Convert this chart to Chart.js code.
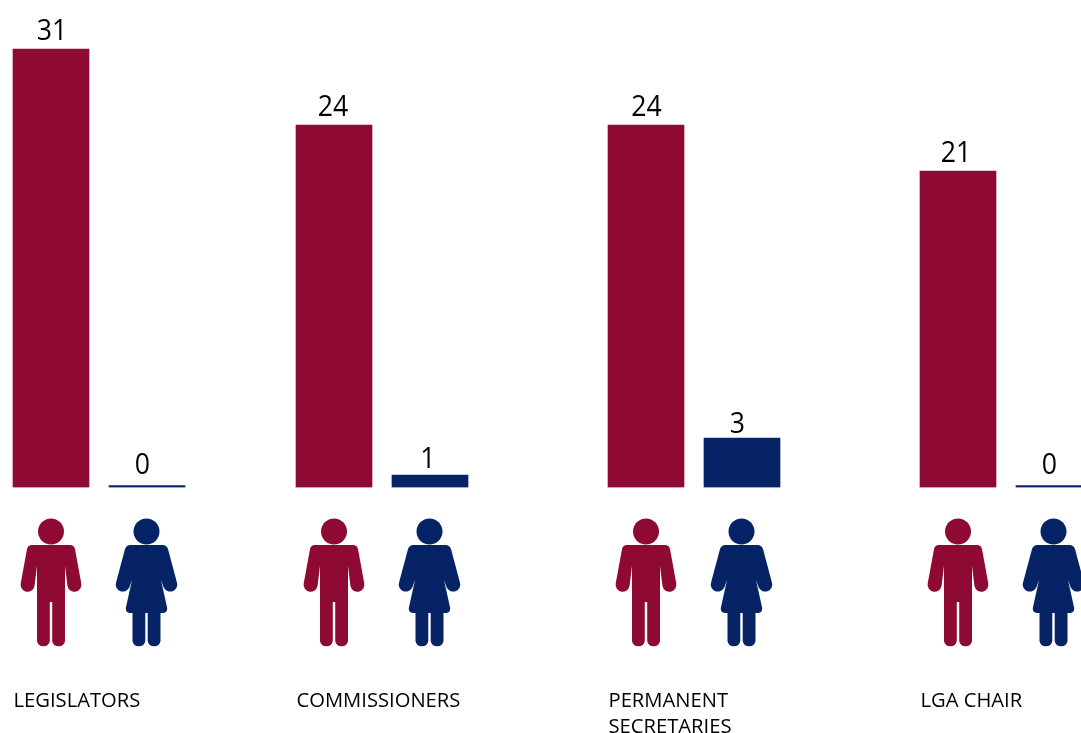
<!DOCTYPE html>
<html>
<head>
<meta charset="utf-8">
<style>
html,body{margin:0;padding:0;background:#fff;overflow:hidden}
#wrap{position:relative;width:1081px;height:733px}
</style>
<script src="https://cdn.jsdelivr.net/npm/chart.js@4/dist/chart.umd.js"></script>
</head>
<body>
<div id="wrap"><canvas id="chart"></canvas></div>
<script>
// Office-holders by gender
const categories = [["LEGISLATORS"], ["COMMISSIONERS"], ["PERMANENT", "SECRETARIES"], ["LGA CHAIR"]];
const men = [31, 24, 24, 21];
const women = [0, 1, 3, 0];

// Layout, in x-scale units (one unit is one pixel across the 1081px canvas)
const groupCentres = [51, 334, 646, 958];
const pairStep = 96;
const barWidth = 76;
const baselineY = 487.5;
const menLabelShift = [1, -1, 0.5, -2];
const womenLabelLift = [11.5, 7, 5.5, 11.5];
const womenLabelShift = [-4.5, -2, -4.5, -4.5];

const MEN_COLOUR = "#8f0a33";
const WOMEN_COLOUR = "#062366";
const FONT = '"Open Sans", sans-serif';

// The value axis is drawn with uneven spacing: each stop gives the height of a value above the baseline.
const axisStops = [[0, 0], [1, 12.5], [3, 49.5], [21, 316.5], [24, 362.5], [31, 438.5]];

class SteppedScale extends Chart.LinearScale {
  heightFor(v) {
    for (let i = 1; i < axisStops.length; i++) {
      const [v0, h0] = axisStops[i - 1], [v1, h1] = axisStops[i];
      if (v <= v1) return h0 + (v - v0) / (v1 - v0) * (h1 - h0);
    }
    return axisStops[axisStops.length - 1][1];
  }
  getPixelForValue(v) { return this.bottom - this.heightFor(v); }
}
SteppedScale.id = "stepped";
SteppedScale.defaults = Chart.LinearScale.defaults;
Chart.register(SteppedScale);

// Pictograms, centred on x = 0 with the top of the head at y = 0
const manPath = new Path2D("M-19 27H19Q23 27 24 31L30.3 65.5A7 7 0 0 1 16.5 68L14 48V123A6.5 6.5 0 0 1 1.2 123V84H-1.2V123A6.5 6.5 0 0 1-14 123V48L-16.5 68A7 7 0 0 1-30.3 65.5L-24 31Q-23 27-19 27Z");
const womanPath = new Path2D("M-16 27H16Q20 27 21.5 31L30.3 64A7 7 0 0 1 17 69L14.5 62L20.7 90Q21 95 16 95H14V123A6.5 6.5 0 0 1 1.2 123V95H-1.2V123A6.5 6.5 0 0 1-14 123V95H-16Q-21 95-20.7 90L-14.5 62L-17 69A7 7 0 0 1-30.3 64L-21.5 31Q-20 27-16 27Z");
const ICON_TOP = 518;

function drawPerson(ctx, path, x, colour) {
  ctx.save();
  ctx.translate(x, ICON_TOP);
  ctx.fillStyle = colour;
  ctx.beginPath();
  ctx.arc(0, 13.5, 13, 0, Math.PI * 2);
  ctx.fill();
  ctx.fill(path);
  ctx.restore();
}

// Text narrowed horizontally about its anchor
function narrowText(ctx, text, x, y, squeeze) {
  ctx.save();
  ctx.translate(x, y);
  ctx.scale(squeeze, 1);
  ctx.fillText(text, 0, 0);
  ctx.restore();
}

const decorations = {
  id: "decorations",
  afterDatasetsDraw(chart) {
    const { ctx, scales: { x: xs } } = chart;
    ctx.save();
    // value labels above each bar
    ctx.fillStyle = "#000";
    ctx.textAlign = "center";
    ctx.textBaseline = "alphabetic";
    ctx.font = "30px " + FONT;
    chart.data.datasets.forEach((ds, d) => {
      const meta = chart.getDatasetMeta(d);
      ds.data.forEach((pt, i) => {
        const bar = meta.data[i];
        const dx = d === 1 ? womenLabelShift[i] : menLabelShift[i];
        const lift = d === 1 ? womenLabelLift[i] : 9;
        narrowText(ctx, String(pt.y), bar.x + dx, bar.y - lift, 0.89);
      });
    });
    // pictograms and category names
    categories.forEach((lines, i) => {
      const mx = xs.getPixelForValue(groupCentres[i]);
      const wx = xs.getPixelForValue(groupCentres[i] + pairStep);
      drawPerson(ctx, manPath, mx, MEN_COLOUR);
      drawPerson(ctx, womanPath, wx - 0.5, WOMEN_COLOUR);
      ctx.fillStyle = "#000";
      ctx.textAlign = "left";
      ctx.font = "500 20.5px " + FONT;
      lines.forEach((line, k) => narrowText(ctx, line, mx - barWidth / 2 + 0.5, 706.5 + k * 26, 0.985));
    });
    ctx.restore();
  }
};

new Chart(document.getElementById("chart"), {
  type: "bar",
  data: {
    datasets: [
      { label: "Men", backgroundColor: MEN_COLOUR,
        data: men.map((v, i) => ({ x: groupCentres[i], y: v })) },
      { label: "Women", backgroundColor: WOMEN_COLOUR,
        data: women.map((v, i) => ({ x: groupCentres[i] + pairStep, y: v })) }
    ]
  },
  options: {
    responsive: true,
    maintainAspectRatio: false,
    animation: false,
    layout: { padding: { left: 0, right: 0, top: 0, bottom: 733 - baselineY } },
    datasets: { bar: { barThickness: barWidth, grouped: false, minBarLength: 2, borderWidth: 0 } },
    plugins: { legend: { display: false }, tooltip: { enabled: false } },
    scales: {
      x: { type: "linear", min: 0, max: 1081, offset: false, display: false },
      y: { type: "stepped", min: 0, max: 31, display: false }
    }
  },
  plugins: [decorations]
});
</script>
</body>
</html>
